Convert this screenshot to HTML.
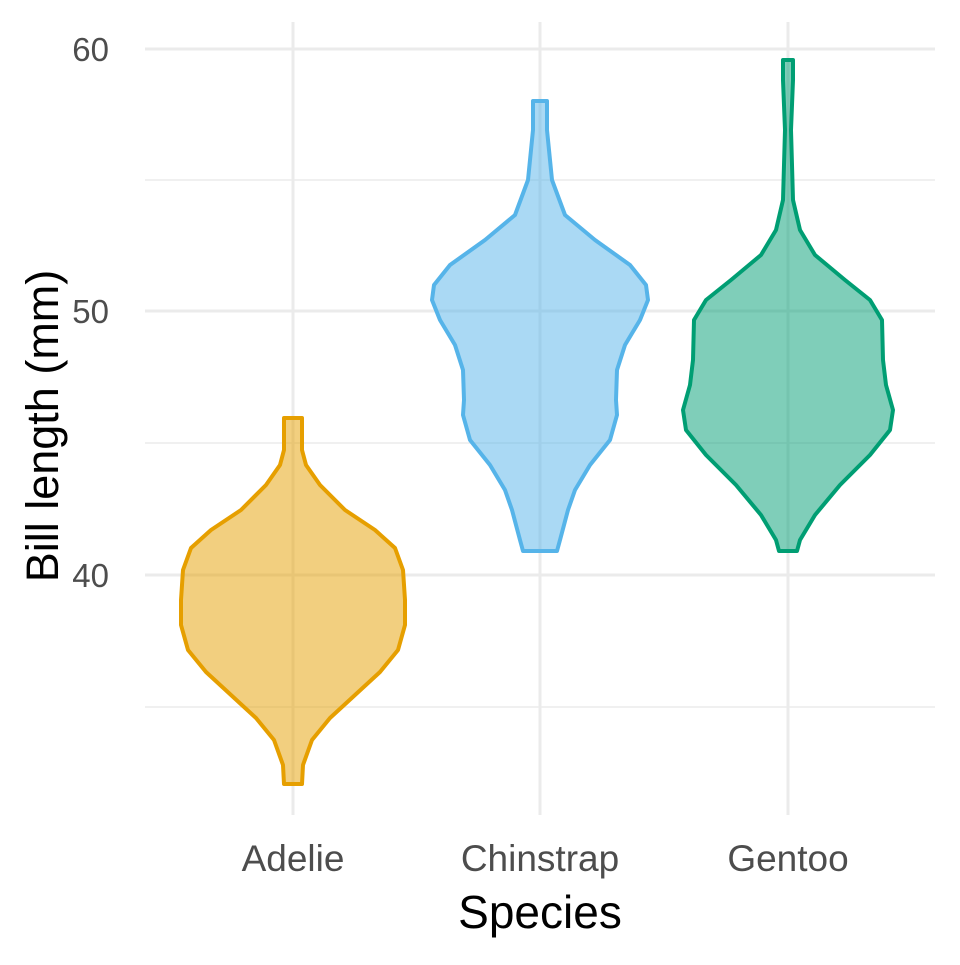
<!DOCTYPE html>
<html><head><meta charset="utf-8"><style>body{margin:0;background:#fff}</style></head><body>
<svg width="960" height="960" xmlns="http://www.w3.org/2000/svg" font-family="Liberation Sans, sans-serif">
<rect width="960" height="960" fill="#fff"/>
<g stroke="#ebebeb" stroke-width="1.5">
<line x1="145" x2="935" y1="180" y2="180"/><line x1="145" x2="935" y1="443" y2="443"/><line x1="145" x2="935" y1="707" y2="707"/>
</g>
<g stroke="#ebebeb" stroke-width="3">
<line x1="145" x2="935" y1="49" y2="49"/><line x1="145" x2="935" y1="311" y2="311"/><line x1="145" x2="935" y1="575" y2="575"/>
<line x1="293" x2="293" y1="22" y2="815"/><line x1="540" x2="540" y1="22" y2="815"/><line x1="788" x2="788" y1="22" y2="815"/>
</g>
<g stroke-width="4" stroke-linejoin="round">
<polygon fill="rgba(230,159,0,0.5)" stroke="#E69F00" points="302,418 302,450 306,465 320,485 345,510 375,530 395,548 403,570 405,600 405,625 398,650 380,672 355,695 330,718 312,740 303,765 302,784 284,784 283,765 274,740 256,718 231,695 206,672 188,650 181,625 181,600 183,570 191,548 211,530 241,510 266,485 280,465 284,450 284,418"/>
<polygon fill="rgba(86,180,233,0.5)" stroke="#56B4E9" points="547,101 547,130 552,180 565,215 595,240 630,265 646,285 648,300 640,320 625,345 617,370 616,400 617,415 610,440 590,465 575,490 568,510 560,540 557,551 523,551 520,540 512,510 505,490 490,465 470,440 463,415 464,400 463,370 455,345 440,320 432,300 434,285 450,265 485,240 515,215 528,180 533,130 533,101"/>
<polygon fill="rgba(0,158,115,0.5)" stroke="#009E73" points="793,60 793,80 791,130 793,200 800,230 815,255 845,280 870,300 882,320 883,360 886,385 893,410 890,430 870,455 840,485 815,515 800,540 797,551 779,551 776,540 761,515 736,485 706,455 686,430 683,410 690,385 693,360 694,320 706,300 731,280 761,255 776,230 783,200 785,130 783,80 783,60"/>
</g>
<g fill="#4d4d4d" font-size="33" text-anchor="end">
<text x="109" y="61">60</text><text x="109" y="323">50</text><text x="109" y="587">40</text>
</g>
<g fill="#4d4d4d" font-size="37" text-anchor="middle">
<text x="293" y="871">Adelie</text><text x="540" y="871">Chinstrap</text><text x="788" y="871">Gentoo</text>
</g>
<text x="540" y="928" font-size="46" text-anchor="middle" fill="#000">Species</text>
<text transform="translate(58,426) rotate(-90)" font-size="45" text-anchor="middle" fill="#000">Bill length (mm)</text>
</svg>
</body></html>
